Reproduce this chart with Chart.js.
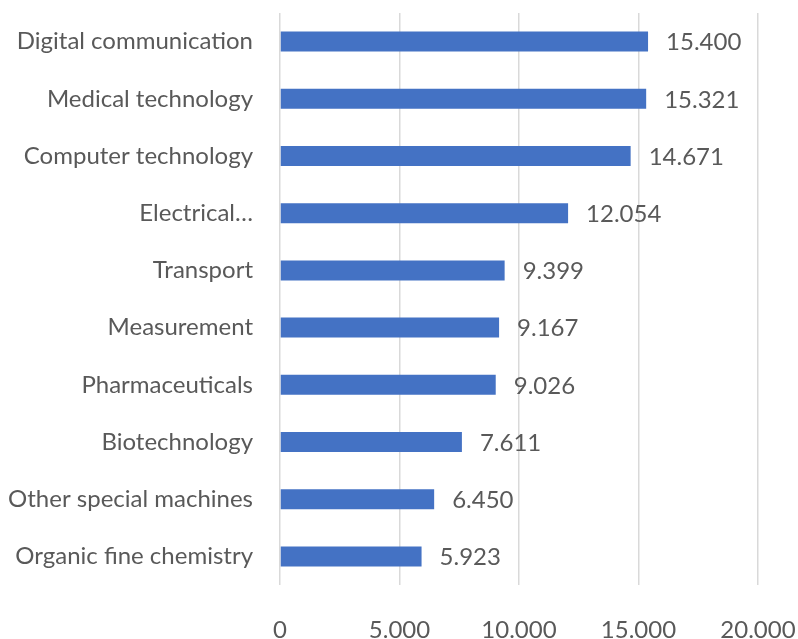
<!DOCTYPE html>
<html>
<head>
<meta charset="utf-8">
<script src="https://cdn.jsdelivr.net/npm/chart.js@4/dist/chart.umd.min.js"></script>
<style>
html,body{margin:0;padding:0;background:#fff;}
canvas{display:block;}
</style>
</head>
<body>
<canvas id="c" width="798" height="639"></canvas>
<script>
const categories = ["Digital communication","Medical technology","Computer technology","Electrical…","Transport","Measurement","Pharmaceuticals","Biotechnology","Other special machines","Organic fine chemistry"];
const values = [15400,15321,14671,12054,9399,9167,9026,7611,6450,5923];
const xTicks = [0,5000,10000,15000,20000];

const fmt = v => v.toLocaleString('de-DE');
const FONT = "Lato, 'Open Sans', sans-serif";

const valueLabels = {
  id:'valueLabels',
  afterDatasetsDraw(chart){
    const ctx = chart.ctx;
    const meta = chart.getDatasetMeta(0);
    ctx.save();
    ctx.font = "24px " + FONT;
    ctx.fillStyle = "#595959";
    ctx.textAlign = "left";
    ctx.textBaseline = "middle";
    meta.data.forEach((el,i)=>{
      ctx.fillText(fmt(values[i]), el.x + 18, el.y + 1);
    });
    ctx.restore();
  }
};

new Chart(document.getElementById('c'), {
  type:'bar',
  data:{
    labels:categories,
    datasets:[{data:values, backgroundColor:'#4472C4', barPercentage:0.35, categoryPercentage:1}]
  },
  options:{
    indexAxis:'y',
    responsive:false,
    maintainAspectRatio:false,
    animation:false,
    devicePixelRatio:1,
    layout:{padding:{top:13,left:8,right:40,bottom:0}},
    plugins:{legend:{display:false},tooltip:{enabled:false}},
    scales:{
      x:{
        min:0,max:20000,
        afterBuildTicks(s){ s.ticks = xTicks.map(v=>({value:v})); },
        afterFit(s){ s.height = 54; s.paddingLeft = 0; s.paddingRight = 0; },
        ticks:{color:'#595959',font:{family:FONT,size:24,lineHeight:1},padding:33,callback:v=>fmt(v),maxRotation:0},
        grid:{color:'#d9d9d9',lineWidth:1.5,drawTicks:false},
        border:{display:false}
      },
      y:{
        afterFit(s){ s.width = 272; s.paddingTop = 0; s.paddingBottom = 0; },
        ticks:{color:'#595959',font:{family:FONT,size:24},padding:27,autoSkip:false},
        grid:{display:false,drawTicks:false},
        border:{display:false}
      }
    }
  },
  plugins:[valueLabels]
});
</script>
</body>
</html>
